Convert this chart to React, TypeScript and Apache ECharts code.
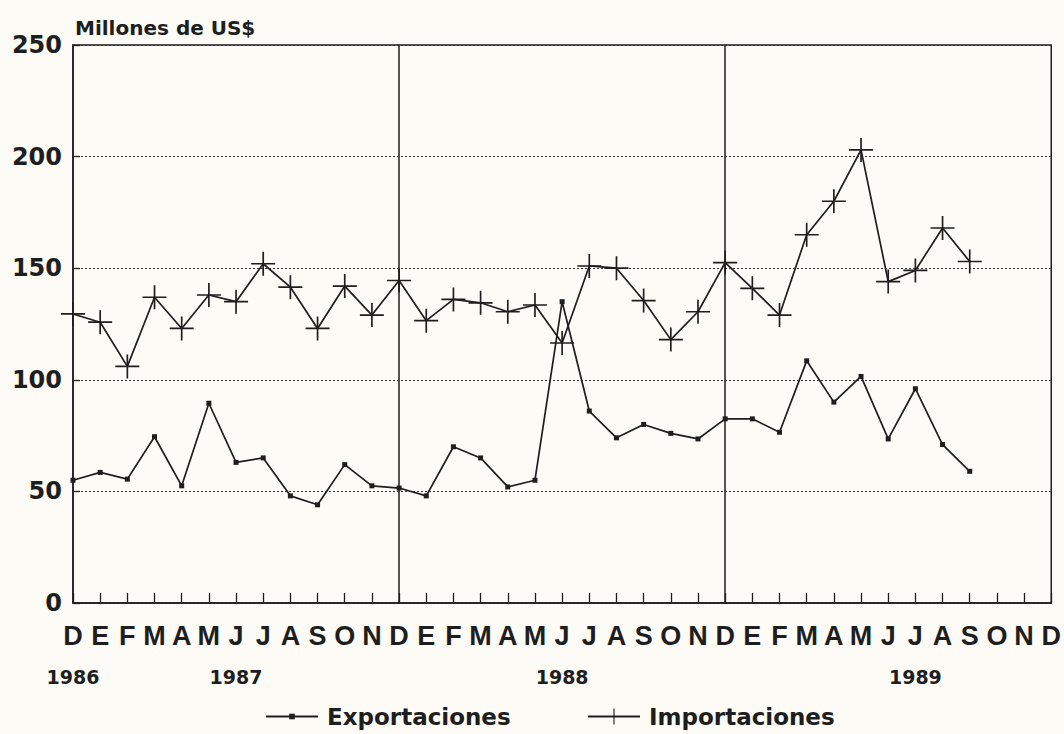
import React, { useEffect, useRef } from "react";
import * as echarts from "echarts";

const months = ["D","E","F","M","A","M","J","J","A","S","O","N","D","E","F","M","A","M","J","J","A","S","O","N","D","E","F","M","A","M","J","J","A","S","O","N","D"];
const yearLabels = ["1986","","","","","","1987","","","","","","","","","","","","1988","","","","","","","","","","","","","1989","","","","",""];
const exportaciones = [55, 58.5, 55.5, 74.5, 52.5, 89.5, 63, 65, 48, 44, 62, 52.5, 51.5, 48, 70, 65, 52, 55, 135, 86, 74, 80, 76, 73.5, 82.5, 82.5, 76.5, 108.5, 90, 101.5, 73.5, 96, 71, 59, null, null, null];
const importaciones = [129.5, 125.8, 106, 137, 123, 138, 135, 152, 141.5, 123, 142, 129, 144.5, 126.5, 136, 134.5, 130.5, 133.5, 116.5, 151, 150, 135.5, 118, 130.5, 152.5, 141, 129, 165, 180, 203, 144, 149, 168, 153, null, null, null];
const dividerIndices = [12, 24];
const yTicks = { min: 0, max: 250, interval: 50 };

const INK = "#1e1e1e";
const FONT = "DejaVu Sans";
const LAB = "Liberation Sans";
const PLUS = "path://M9.3,0h1.4v9.3h9.3v1.4h-9.3v9.3h-1.4v-9.3h-9.3v-1.4h9.3z";

export default function App() {
  const ref = useRef<HTMLDivElement>(null);
  useEffect(() => {
    if (!ref.current) return;
    const chart = echarts.init(ref.current, undefined, { renderer: "svg" });
    const legendText = { fontFamily: FONT, fontWeight: "bold", fontSize: 23, color: INK, padding: [0, 0, 0, 4] };
    chart.setOption({
      animation: false,
      backgroundColor: "#fcfbf6",
      title: {
        text: "Millones de US$",
        left: 70,
        top: 13,
        textStyle: { fontFamily: FONT, fontWeight: "bold", fontSize: 20, color: INK },
      },
      grid: {
        left: 73,
        right: 12,
        top: 45,
        bottom: 131,
        show: true,
        borderColor: INK,
        borderWidth: 1.5,
        backgroundColor: "transparent",
      },
      legend: [
        {
          left: 260,
          top: 700,
          itemWidth: 52,
          itemHeight: 7,
          textStyle: legendText,
          data: [{ name: "Exportaciones" }],
        },
        {
          left: 582,
          top: 700,
          itemWidth: 52,
          itemHeight: 20,
          textStyle: legendText,
          data: [{ name: "Importaciones" }],
        },
      ],
      xAxis: [
        {
          type: "category",
          data: months,
          boundaryGap: false,
          axisLine: { lineStyle: { color: INK, width: 1.5 } },
          axisTick: { show: true, inside: true, length: 10, interval: 0, lineStyle: { color: INK, width: 1.3 } },
          axisLabel: { interval: 0, margin: 19, fontFamily: LAB, fontWeight: "bold", fontSize: 27, color: INK },
          splitLine: { show: false },
        },
        {
          type: "category",
          data: months,
          boundaryGap: false,
          position: "bottom",
          offset: 56,
          axisLine: { show: false },
          axisTick: { show: false },
          axisLabel: {
            interval: 0,
            margin: 8,
            fontFamily: FONT,
            fontWeight: "bold",
            fontSize: 19,
            color: INK,
            formatter: (_v: string, i: number) => yearLabels[i],
          },
          splitLine: { show: false },
        },
      ],
      yAxis: {
        type: "value",
        min: yTicks.min,
        max: yTicks.max,
        interval: yTicks.interval,
        axisLine: { show: true, lineStyle: { color: INK, width: 1.5 } },
        axisTick: { show: true, inside: true, length: 7, lineStyle: { color: INK, width: 1.3 } },
        axisLabel: { margin: 11, fontFamily: FONT, fontWeight: "bold", fontSize: 24, color: INK },
        splitLine: { show: true, lineStyle: { color: "#333", width: 1, type: [2, 2] } },
      },
      series: [
        {
          name: "Exportaciones",
          type: "line",
          data: exportaciones,
          xAxisIndex: 0,
          symbol: "rect",
          symbolSize: 5,
          showAllSymbol: true,
          lineStyle: { color: INK, width: 1.7 },
          itemStyle: { color: INK },
          connectNulls: false,
        },
        {
          name: "Importaciones",
          type: "line",
          data: importaciones,
          xAxisIndex: 0,
          symbol: PLUS,
          symbolSize: 24,
          showAllSymbol: true,
          lineStyle: { color: INK, width: 1.7 },
          itemStyle: { color: INK },
          connectNulls: false,
          markLine: {
            silent: true,
            symbol: ["none", "none"],
            label: { show: false },
            lineStyle: { color: INK, width: 1.5, type: "solid" },
            data: dividerIndices.map((i) => ({ xAxis: i })),
          },
        },
      ],
    });
    return () => chart.dispose();
  }, []);
  return (
    <div
      ref={ref}
      style={{ position: "fixed", left: 0, top: 0, width: 1064, height: 734 }}
    />
  );
}
